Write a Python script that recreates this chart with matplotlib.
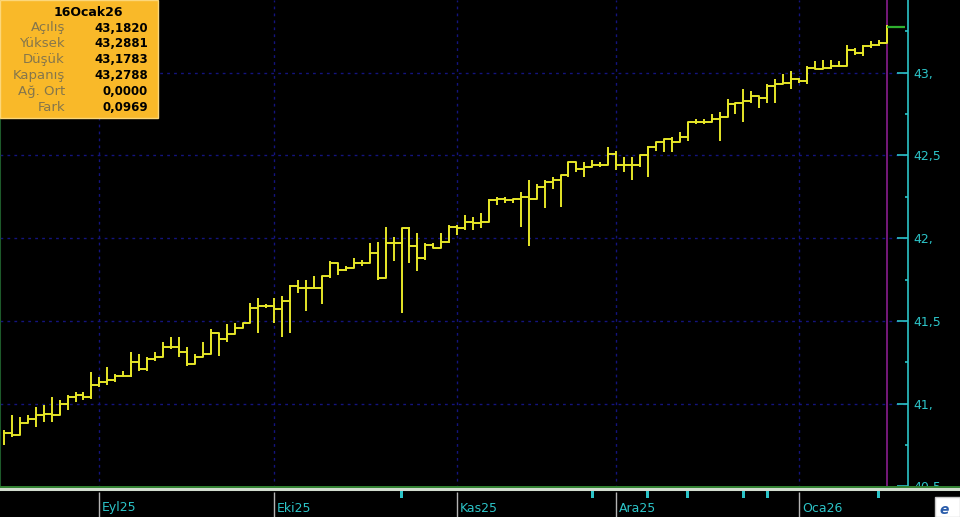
import numpy as np
import pandas as pd
import matplotlib
matplotlib.use("Agg")
import matplotlib.pyplot as plt
from matplotlib.patches import Rectangle
from matplotlib.ticker import FixedLocator, FuncFormatter

# one bar per weekday, 14 Aug 2025 .. 16 Jan 2026
dates = pd.bdate_range("2025-08-14", "2026-01-16")

closes = [
    40.82, 40.81, 40.88, 40.91, 40.93, 40.94, 40.93, 41.00, 41.04, 41.05,
    41.04, 41.11, 41.13, 41.14, 41.17, 41.17, 41.25, 41.21, 41.27, 41.28,
    41.34, 41.34, 41.31, 41.24, 41.28, 41.30, 41.43, 41.39, 41.42, 41.46,
    41.49, 41.58, 41.59, 41.59, 41.57, 41.62, 41.71, 41.70, 41.70, 41.70,
    41.77, 41.85, 41.81, 41.82, 41.85, 41.85, 41.91, 41.76, 41.97, 41.97,
    42.06, 41.95, 41.88, 41.96, 41.94, 41.98, 42.07, 42.06, 42.10, 42.09,
    42.10, 42.23, 42.24, 42.23, 42.24, 42.25, 42.24, 42.31, 42.34, 42.35,
    42.38, 42.46, 42.42, 42.43, 42.44, 42.44, 42.51, 42.44, 42.44, 42.44,
    42.50, 42.55, 42.58, 42.60, 42.58, 42.61, 42.70, 42.70, 42.70, 42.72,
    42.73, 42.81, 42.82, 42.83, 42.86, 42.85, 42.92, 42.93, 42.94, 42.96,
    42.95, 43.03, 43.02, 43.03, 43.04, 43.04, 43.14, 43.12, 43.16, 43.17,
    43.1819, 43.2788,
]
highs = [
    40.84, 40.93, 40.92, 40.93, 40.98, 40.99, 41.04, 41.02, 41.05, 41.07,
    41.07, 41.19, 41.16, 41.22, 41.18, 41.20, 41.31, 41.30, 41.28, 41.31,
    41.37, 41.40, 41.40, 41.34, 41.30, 41.37, 41.45, 41.43, 41.48, 41.49,
    41.49, 41.61, 41.64, 41.60, 41.64, 41.65, 41.72, 41.75, 41.75, 41.77,
    41.77, 41.86, 41.85, 41.83, 41.88, 41.87, 41.97, 41.98, 42.07, 42.01,
    42.06, 42.07, 42.03, 41.97, 41.97, 42.03, 42.08, 42.08, 42.14, 42.13,
    42.15, 42.24, 42.25, 42.25, 42.24, 42.28, 42.35, 42.33, 42.35, 42.37,
    42.38, 42.46, 42.46, 42.46, 42.47, 42.46, 42.55, 42.53, 42.49, 42.49,
    42.50, 42.56, 42.58, 42.60, 42.61, 42.64, 42.70, 42.72, 42.72, 42.75,
    42.76, 42.84, 42.82, 42.90, 42.89, 42.85, 42.93, 42.96, 42.99, 43.01,
    42.97, 43.04, 43.07, 43.08, 43.08, 43.07, 43.17, 43.15, 43.17, 43.19,
    43.20, 43.2881,
]
lows = [
    40.75, 40.80, 40.82, 40.89, 40.86, 40.89, 40.89, 40.93, 40.96, 41.01,
    41.02, 41.03, 41.10, 41.11, 41.13, 41.16, 41.16, 41.20, 41.20, 41.26,
    41.28, 41.33, 41.28, 41.23, 41.24, 41.28, 41.30, 41.29, 41.37, 41.45,
    41.46, 41.49, 41.43, 41.58, 41.49, 41.40, 41.43, 41.67, 41.56, 41.69,
    41.60, 41.76, 41.78, 41.80, 41.82, 41.83, 41.86, 41.75, 41.76, 41.86,
    41.55, 41.85, 41.80, 41.87, 41.94, 41.94, 41.97, 42.02, 42.05, 42.05,
    42.06, 42.10, 42.20, 42.21, 42.21, 42.07, 41.95, 42.30, 42.18, 42.30,
    42.19, 42.37, 42.40, 42.37, 42.43, 42.43, 42.44, 42.41, 42.40, 42.35,
    42.43, 42.37, 42.53, 42.52, 42.52, 42.59, 42.59, 42.69, 42.69, 42.70,
    42.59, 42.73, 42.75, 42.70, 42.82, 42.79, 42.82, 42.82, 42.93, 42.90,
    42.94, 42.93, 43.02, 43.02, 43.02, 43.04, 43.04, 43.11, 43.10, 43.15,
    43.16, 43.1783,
]

month_starts = ["2025-09-01", "2025-10-01", "2025-11-03", "2025-12-01", "2026-01-01"]
month_labels = ["Eyl25", "Eki25", "Kas25", "Ara25", "Oca26"]

# little cyan flags under the time axis
event_days = ["2025-10-23", "2025-11-26", "2025-12-05", "2025-12-12",
              "2025-12-23", "2025-12-26", "2026-01-15"]

info_title = "16Ocak26"
info_names = ["Açılış", "Yüksek", "Düşük", "Kapanış", "Ağ. Ort", "Fark"]
info_values = ["43,1820", "43,2881", "43,1783", "43,2788", "0,0000", "0,0969"]

W, H = 960, 517
YELLOW = '#e6e628'
CYAN = '#2cc4c8'
GRID = '#14147e'


def fx(px):
    return px / W


def fy(py):
    return 1 - py / H


def tick_label(v, pos):
    if abs(v - round(v)) < 1e-6:
        return f"{int(round(v))},"
    return f"{v:.1f}".replace(".", ",")


fig = plt.figure(figsize=(W / 100, H / 100), dpi=100, facecolor='black')
ax = fig.add_axes([0, 29 / H, 908 / W, 488 / H])
ax.set_facecolor('black')

x = np.arange(len(dates))
closes = np.array(closes)
highs = np.array(highs)
lows = np.array(lows)
last = len(x) - 1

month_x = [dates.get_loc(pd.Timestamp(d)) for d in month_starts]
event_x = [dates.get_loc(pd.Timestamp(d)) for d in event_days]

# grid first so the bars sit on top
for mx in month_x:
    ax.axvline(mx, color=GRID, lw=1, ls=(0, (2, 3)), zorder=1)
for gy in [41.0, 41.5, 42.0, 42.5, 43.0]:
    ax.axhline(gy, color=GRID, lw=1, ls=(0, (2, 3)), zorder=1)

# close line as steps + high/low sticks
ax.step(x, closes, where='post', color=YELLOW, lw=1.4, zorder=3)
lo = np.minimum(lows, closes)
hi = np.maximum(highs, closes)
ax.vlines(x, lo, hi, color=YELLOW, lw=1.4, zorder=3)

ax.axvline(last, color='#8a1e8e', lw=1.2, zorder=2)
ax.hlines(closes[-1], last, 113.3, color='#2eb02e', lw=1.6, zorder=4)

ax.set_xlim(-0.5, 113.7)
ax.set_ylim(40.49, 43.44)

for side in ['top', 'bottom']:
    ax.spines[side].set_visible(False)
ax.spines['left'].set_color('#1d5a2a')
ax.spines['left'].set_linewidth(1.5)
ax.spines['right'].set_color(CYAN)
ax.spines['right'].set_linewidth(1.2)

ax.tick_params(axis='x', length=0, labelbottom=False)
ax.yaxis.tick_right()
ax.yaxis.set_major_locator(FixedLocator([40.5, 41.0, 41.5, 42.0, 42.5, 43.0]))
ax.yaxis.set_minor_locator(FixedLocator([40.75, 41.25, 41.75, 42.25, 42.75, 43.25]))
ax.yaxis.set_major_formatter(FuncFormatter(tick_label))
ax.tick_params(axis='y', which='major', direction='in', length=8, width=1.2,
               color=CYAN, labelcolor=CYAN, labelsize=9, pad=4)
ax.tick_params(axis='y', which='minor', direction='in', length=2.5, width=1.2,
               color=CYAN)

# time axis strip underneath (a bit taller so it bites into the 40,5 label)
axb = fig.add_axes([0, 0, 1, 31 / H], zorder=2)
axb.set_facecolor('black')
axb.set_xlim(-0.5, -0.5 + 960 / 7.95)
axb.set_ylim(31, 0)
axb.axis('off')
axb.add_patch(Rectangle((-5, -1), 200, 40, facecolor='black', edgecolor='none', zorder=0))
axb.axhline(1.2, color='#3a9a3a', lw=1.2, zorder=2)
axb.axhline(3.2, color='#d2dccf', lw=2.2, zorder=2)
axb.vlines(month_x, 6, 31, color='#b4b4b4', lw=1, zorder=2)
axb.bar(event_x, 7, bottom=5, width=0.38, color=CYAN, zorder=2)
for mx, lab in zip(month_x, month_labels):
    axb.text(mx + 0.35, 22, lab, ha='left', va='center', color=CYAN,
             fontsize=9, zorder=3)

# small logo corner, bottom right
fig.add_artist(Rectangle((fx(935), 0), fx(25), 20 / H, transform=fig.transFigure,
                         facecolor='white', edgecolor='#c8c8c8', lw=1, zorder=5))
fig.text(fx(940), fy(510), "e", color='#2a5caa', fontsize=10, fontweight='bold',
         style='italic', va='center', ha='left', zorder=6)

# OHLC info box
fig.add_artist(Rectangle((0, fy(118)), fx(158), 118 / H, transform=fig.transFigure,
                         facecolor='#f9b929', edgecolor='#fcd77a', lw=1, zorder=5))
fig.text(fx(88), fy(13), info_title, ha='center', va='center', fontsize=9,
         fontweight='bold', color='black', zorder=6)
for k, (name, val) in enumerate(zip(info_names, info_values)):
    yy = fy(28 + k * 15.8)
    fig.text(fx(65), yy, name, ha='right', va='center', fontsize=9.5,
             color='#85764c', zorder=6)
    fig.text(fx(148), yy, val, ha='right', va='center', fontsize=8.5,
             fontweight='bold', color='black', zorder=6)

fig.savefig("out.png", dpi=100, facecolor='black')
